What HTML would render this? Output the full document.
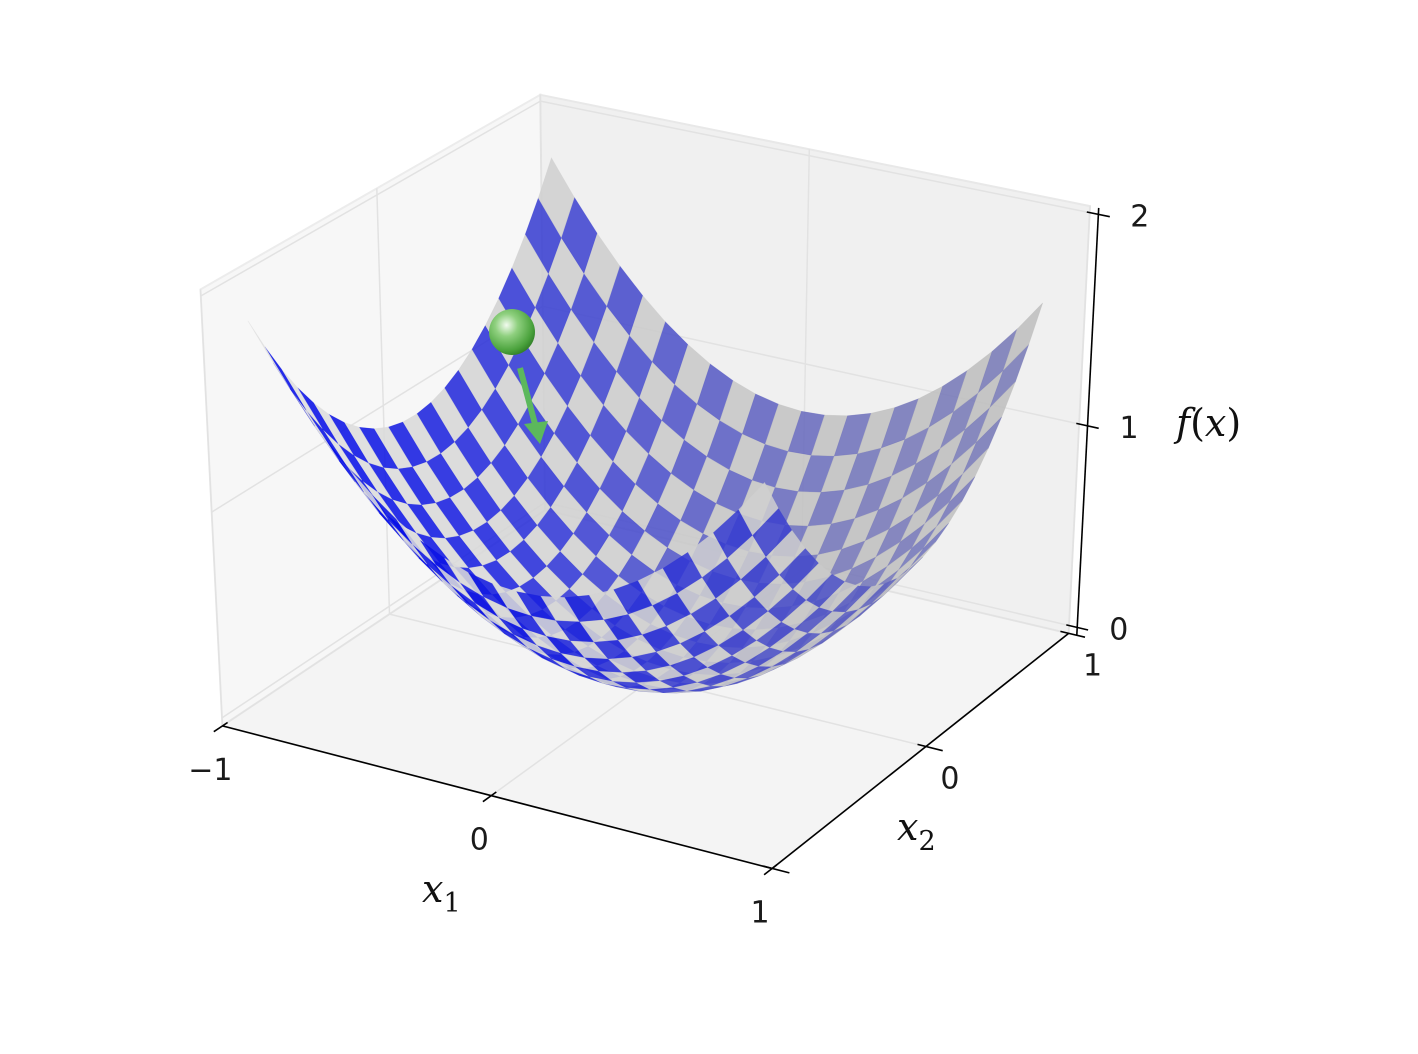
<!DOCTYPE html>
<html><head><meta charset="utf-8">
<style>
html,body{margin:0;padding:0;background:#fff;}
svg{display:block;}
.tick{font-family:"DejaVu Sans","Liberation Sans",sans-serif;font-size:30px;fill:#1a1a1a;}
.lab{font-family:"DejaVu Serif","Liberation Serif",serif;font-style:italic;fill:#111;}
</style></head>
<body>
<svg id="chart" width="1418" height="1054" viewBox="0 0 1418 1054">
<defs>
<radialGradient id="ballGrad" cx="0.38" cy="0.35" r="0.7">
<stop offset="0" stop-color="#f2fbef"/>
<stop offset="0.35" stop-color="#8fd07f"/>
<stop offset="0.8" stop-color="#4aa23c"/>
<stop offset="1" stop-color="#2f7d27"/>
</radialGradient>
</defs>
<g id="panes"></g>
<g id="surface"></g>
<g id="axes"></g>
<g id="labels">
<text class="lab" x="422" y="902" font-size="38">x<tspan font-style="normal" font-size="27" dy="10">1</tspan></text>
<text class="lab" x="897" y="840" font-size="38">x<tspan font-style="normal" font-size="27" dy="10">2</tspan></text>
<text class="lab" x="1176" y="436" font-size="38">f<tspan font-style="normal">(</tspan>x<tspan font-style="normal">)</tspan></text>
</g>
<g id="ball">
<line x1="520" y1="368" x2="535" y2="424" stroke="#5cb85c" stroke-width="6"/>
<polygon points="524,424 548,421 540,444" fill="#5cb85c"/>
<circle cx="512" cy="332" r="23" fill="url(#ballGrad)"/>
</g>
</svg>
<script>
// ---- data ----
const x1Ticks = [-1, 0, 1];
const x2Ticks = [0, 1];
const x2TickAll = [-1, 0, 1];
const zTicks = [0, 1, 2];
const x1TickLabels = ["\u22121", "0", "1"];
const x2TickLabels = ["0", "1"];
const zTickLabels = ["0", "1", "2"];
const gridX1 = [-0.9,-0.814,-0.729,-0.643,-0.557,-0.471,-0.386,-0.3,-0.214,-0.129,-0.043,0.043,0.129,0.214,0.3,0.386,0.471,0.557,0.643,0.729,0.814,0.9];
const gridX2 = [-0.9,-0.814,-0.729,-0.643,-0.557,-0.471,-0.386,-0.3,-0.214,-0.129,-0.043,0.043,0.129,0.214,0.3,0.386,0.471,0.557,0.643,0.729,0.814,0.9];
const surfaceCoeffs = [1.07, -0.111, -0.039]; // A*(x1^2+x2^2) + B*x1 + C*x2
const xLim = [-1, 1];
const yLim = [-1, 1];
const zLim = [-0.04, 2.03];

const NS = "http://www.w3.org/2000/svg";
function f(x1, x2){ return surfaceCoeffs[0]*(x1*x1+x2*x2) + surfaceCoeffs[1]*x1 + surfaceCoeffs[2]*x2; }

// matplotlib-like perspective projection (elev 30, azim -60, dist 10)
const elev = 30*Math.PI/180, azim = -60*Math.PI/180, dist = 10;
const E = [0.5+dist*Math.cos(azim)*Math.cos(elev), 0.5+dist*Math.sin(azim)*Math.cos(elev), 0.5+dist*Math.sin(elev)];
function norm(a){const l=Math.hypot(a[0],a[1],a[2]);return [a[0]/l,a[1]/l,a[2]/l];}
function cross(a,b){return [a[1]*b[2]-a[2]*b[1],a[2]*b[0]-a[0]*b[2],a[0]*b[1]-a[1]*b[0]];}
function dot(a,b){return a[0]*b[0]+a[1]*b[1]+a[2]*b[2];}
const nV = norm([E[0]-0.5,E[1]-0.5,E[2]-0.5]);
const uV = norm(cross([0,0,1], nV));
const vV = cross(nV, uV);
function raw(x,y,z){
  const p=[(x-xLim[0])/(xLim[1]-xLim[0]),(y-yLim[0])/(yLim[1]-yLim[0]),(z-zLim[0])/(zLim[1]-zLim[0])];
  const d=[p[0]-E[0],p[1]-E[1],p[2]-E[2]];
  const w=-dot(d,nV);
  return [dot(d,uV)/w, dot(d,vV)/w, w];
}
// fit affine screen mapping to observed box corners
const anchors = [
  [[-1,-1,zLim[0]],[222,727]],
  [[1,1,zLim[0]],[1068,636]],
  [[-1,1,zLim[1]],[537,95]],
  [[1,-1,zLim[0]],[772,866]],
  [[1,1,zLim[1]],[1092,205]],
  [[-1,-1,zLim[1]],[203,289]]
];
function solve3(M,b){
  const a=M.map((r,i)=>[...r,b[i]]);
  for(let i=0;i<3;i++){let m=i;for(let k=i+1;k<3;k++)if(Math.abs(a[k][i])>Math.abs(a[m][i]))m=k;[a[i],a[m]]=[a[m],a[i]];
    for(let k=0;k<3;k++){if(k===i)continue;const fct=a[k][i]/a[i][i];for(let j=i;j<4;j++)a[k][j]-=fct*a[i][j];}}
  return [a[0][3]/a[0][0],a[1][3]/a[1][1],a[2][3]/a[2][2]];
}
const AtA=[[0,0,0],[0,0,0],[0,0,0]], AtX=[0,0,0], AtY=[0,0,0];
anchors.forEach(([p,s])=>{const r=raw(p[0],p[1],p[2]);const row=[1,r[0],r[1]];
  for(let i=0;i<3;i++){for(let j=0;j<3;j++)AtA[i][j]+=row[i]*row[j];AtX[i]+=row[i]*s[0];AtY[i]+=row[i]*s[1];}});
const cX=solve3(AtA,AtX), cY=solve3(AtA,AtY);
function P(x,y,z){const r=raw(x,y,z);return [cX[0]+cX[1]*r[0]+cX[2]*r[1], cY[0]+cY[1]*r[0]+cY[2]*r[1], r[2]];}
function pts(arr){return arr.map(p=>p[0].toFixed(1)+","+p[1].toFixed(1)).join(" ");}

// ---- panes ----
const panes=document.getElementById("panes");
const z0=zLim[0], z1=zLim[1];
function addPoly(parent, corners, fill, stroke, name){
  const el=document.createElementNS(NS,"polygon");
  el.setAttribute("points",pts(corners));
  el.setAttribute("fill",fill);
  el.setAttribute("stroke",stroke);
  el.setAttribute("stroke-width","2");
  
  
  parent.appendChild(el);
}
function addLine(parent,a,b,color,width,name){
  const el=document.createElementNS(NS,"line");
  el.setAttribute("x1",a[0].toFixed(1));el.setAttribute("y1",a[1].toFixed(1));
  el.setAttribute("x2",b[0].toFixed(1));el.setAttribute("y2",b[1].toFixed(1));
  el.setAttribute("stroke",color);el.setAttribute("stroke-width",width);
  
  
  parent.appendChild(el);
}
addPoly(panes,[P(-1,-1,z0),P(-1,1,z0),P(-1,1,z1),P(-1,-1,z1)],"#f7f7f7","#ececec","left-pane");
addPoly(panes,[P(-1,1,z0),P(1,1,z0),P(1,1,z1),P(-1,1,z1)],"#f0f0f0","#e8e8e8","back-pane");
addPoly(panes,[P(-1,-1,z0),P(1,-1,z0),P(1,1,z0),P(-1,1,z0)],"#f4f4f4","#e8e8e8","floor-pane");
const gc="#e2e2e2";
x1Ticks.forEach(t=>{addLine(panes,P(t,-1,z0),P(t,1,z0),gc,1.5,"floor-grid-x1");addLine(panes,P(t,1,z0),P(t,1,z1),gc,1.5,"back-grid-x1");});
x2TickAll.forEach(t=>{addLine(panes,P(-1,t,z0),P(1,t,z0),gc,1.5,"floor-grid-x2");addLine(panes,P(-1,t,z0),P(-1,t,z1),gc,1.5,"left-grid-x2");});
zTicks.forEach(t=>{addLine(panes,P(-1,-1,t),P(-1,1,t),gc,1.5,"left-grid-z");addLine(panes,P(-1,1,t),P(1,1,t),gc,1.5,"back-grid-z");});

// ---- surface ----
const surf=document.getElementById("surface");
const L=norm([-1,-1,0.5]);
const faces=[];
for(let i=0;i<gridX1.length-1;i++){
  for(let j=0;j<gridX2.length-1;j++){
    const xa=gridX1[i], xb=gridX1[i+1], ya=gridX2[j], yb=gridX2[j+1];
    const c=[P(xa,ya,f(xa,ya)),P(xb,ya,f(xb,ya)),P(xb,yb,f(xb,yb)),P(xa,yb,f(xa,yb))];
    const xm=(xa+xb)/2, ym=(ya+yb)/2;
    const fx=2*surfaceCoeffs[0]*xm+surfaceCoeffs[1], fy=2*surfaceCoeffs[0]*ym+surfaceCoeffs[2];
    const sh=dot(norm([fx,fy,-1]),L);
    faces.push({c, depth:(c[0][2]+c[1][2]+c[2][2]+c[3][2])/4, sh, blue:((i+j)%2===1)});
  }
}
let smin=Infinity,smax=-Infinity;faces.forEach(q=>{smin=Math.min(smin,q.sh);smax=Math.max(smax,q.sh);});
faces.sort((a,b)=>b.depth-a.depth);
function mix(a,b,t){return "rgb("+a.map((v,k)=>Math.round(v+(b[k]-v)*t)).join(",")+")";}
faces.forEach(q=>{
  const t=(q.sh-smin)/(smax-smin);
  const col=q.blue?mix([118,120,182],[0,8,232],t):mix([190,190,190],[222,222,222],t);
  const el=document.createElementNS(NS,"polygon");
  el.setAttribute("points",pts(q.c));
  el.setAttribute("fill",col);
  el.setAttribute("fill-opacity","0.86");
  el.setAttribute("stroke",col);
  el.setAttribute("stroke-opacity","0.5");
  el.setAttribute("stroke-width","0.6");
  
  
  surf.appendChild(el);
});

// ---- axes ----
const ax=document.getElementById("axes");
addLine(ax,P(-1,-1,z0),P(1,-1,z0),"#000",1.6,"x1-axis-line");
addLine(ax,P(1,-1,z0),P(1,1,z0),"#000",1.6,"x2-axis-line");
const zb=P(1.03,1,z0), zt=P(1.03,1,z1);
addLine(ax,zb,zt,"#000",1.6,"z-axis-line");
function addText(x,y,s,anchor,name){
  const el=document.createElementNS(NS,"text");
  el.setAttribute("x",x.toFixed(1));el.setAttribute("y",y.toFixed(1));
  el.setAttribute("class","tick");el.setAttribute("text-anchor",anchor);
  el.textContent=s;
  
  
  ax.appendChild(el);
}
x1Ticks.forEach((t,k)=>{
  addLine(ax,P(t,-0.97,z0),P(t,-1.05,z0),"#000",1.6,"x1-tick");
  const p=P(t,-1,z0);
  addText(p[0]-12,p[1]+54,x1TickLabels[k],"middle","x1-tick-label");
});
x2TickAll.forEach(t=>{addLine(ax,P(0.97,t,z0),P(1.06,t,z0),"#000",1.6,"x2-tick");});
x2Ticks.forEach((t,k)=>{
  const p=P(1,t,z0);
  addText(p[0]+24,p[1]+42,x2TickLabels[k],"middle","x2-tick-label");
});
zTicks.forEach((t,k)=>{
  addLine(ax,P(0.99,1,t),P(1.07,1,t),"#000",1.6,"z-tick");
  const p=P(1.03,1,t);
  addText(p[0]+32,p[1]+12,zTickLabels[k],"start","z-tick-label");
});
</script>
</body></html>
